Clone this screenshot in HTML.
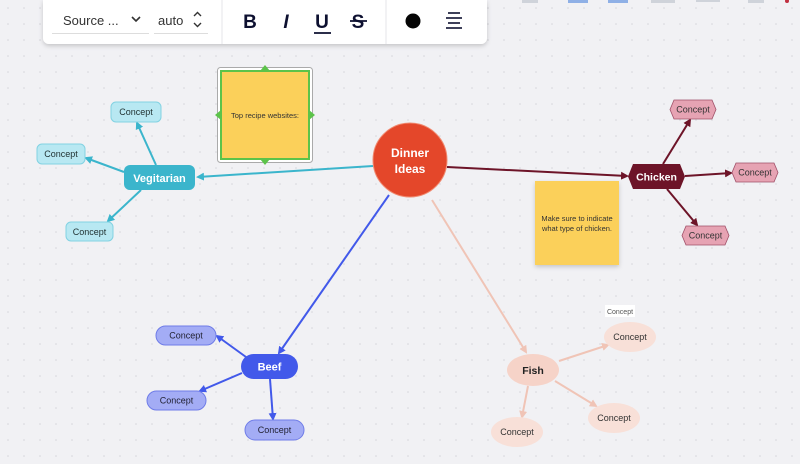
<!DOCTYPE html>
<html><head><meta charset="utf-8"><style>
html,body{margin:0;padding:0;width:800px;height:464px;overflow:hidden;background:#f1f1f4}
svg{display:block;font-family:"Liberation Sans",sans-serif}
</style></head><body>
<svg width="800" height="464" viewBox="0 0 800 464" xmlns="http://www.w3.org/2000/svg">
<defs>
<pattern id="g" width="16" height="16" patternUnits="userSpaceOnUse"><circle cx="8" cy="8" r="0.8" fill="#d4d4da"/></pattern>
<marker id="at" markerWidth="8" markerHeight="8" refX="6" refY="4" orient="auto" markerUnits="userSpaceOnUse"><path d="M0,0 L8,4 L0,8z" fill="#3bb5cc"/></marker>
<marker id="ac" markerWidth="8" markerHeight="8" refX="6" refY="4" orient="auto" markerUnits="userSpaceOnUse"><path d="M0,0 L8,4 L0,8z" fill="#6d1428"/></marker>
<marker id="ab" markerWidth="8" markerHeight="8" refX="6" refY="4" orient="auto" markerUnits="userSpaceOnUse"><path d="M0,0 L8,4 L0,8z" fill="#4259ea"/></marker>
<marker id="af" markerWidth="8" markerHeight="8" refX="6" refY="4" orient="auto" markerUnits="userSpaceOnUse"><path d="M0,0 L8,4 L0,8z" fill="#f0c4b6"/></marker>
<filter id="sh" x="-10%" y="-10%" width="120%" height="130%"><feDropShadow dx="0" dy="2" stdDeviation="2" flood-opacity="0.18"/></filter>
</defs>
<rect width="800" height="464" fill="url(#g)"/>
<!-- top strip icons -->
<g fill="#cfd3da"><rect x="522" y="0" width="16" height="3"/><rect x="568" y="0" width="20" height="3" fill="#8fb0e6"/><rect x="608" y="0" width="20" height="3" fill="#8fb0e6"/><rect x="651" y="0" width="24" height="3"/><rect x="696" y="0" width="24" height="2"/><rect x="748" y="0" width="16" height="3"/><circle cx="787" cy="1" r="2" fill="#c03040"/></g>

<!-- connectors -->
<g stroke-width="2" fill="none">
<line x1="373" y1="166" x2="198" y2="177" stroke="#3bb5cc" marker-end="url(#at)"/>
<line x1="156" y1="165" x2="137" y2="123" stroke="#3bb5cc" marker-end="url(#at)"/>
<line x1="124" y1="172" x2="86" y2="158" stroke="#3bb5cc" marker-end="url(#at)"/>
<line x1="141" y1="190" x2="108" y2="221" stroke="#3bb5cc" marker-end="url(#at)"/>
<line x1="447" y1="167" x2="627" y2="176" stroke="#6d1428" marker-end="url(#ac)"/>
<line x1="663" y1="164" x2="690" y2="120" stroke="#6d1428" marker-end="url(#ac)"/>
<line x1="685" y1="176" x2="731" y2="173" stroke="#6d1428" marker-end="url(#ac)"/>
<line x1="667" y1="189" x2="697" y2="225" stroke="#6d1428" marker-end="url(#ac)"/>
<line x1="389" y1="195" x2="279" y2="353" stroke="#4259ea" marker-end="url(#ab)"/>
<line x1="246" y1="357" x2="217" y2="336" stroke="#4259ea" marker-end="url(#ab)"/>
<line x1="242" y1="373" x2="200" y2="391" stroke="#4259ea" marker-end="url(#ab)"/>
<line x1="270" y1="379" x2="273" y2="419" stroke="#4259ea" marker-end="url(#ab)"/>
<line x1="432" y1="200" x2="526" y2="352" stroke="#f0c4b6" marker-end="url(#af)"/>
<line x1="559" y1="361" x2="608" y2="345" stroke="#f0c4b6" marker-end="url(#af)"/>
<line x1="555" y1="381" x2="596" y2="406" stroke="#f0c4b6" marker-end="url(#af)"/>
<line x1="528" y1="386" x2="522" y2="417" stroke="#f0c4b6" marker-end="url(#af)"/>
</g>

<!-- center -->
<circle cx="410" cy="160" r="37" fill="#e4472a" stroke="#f08a70" stroke-width="1"/>
<text x="410" y="157" fill="#fff" font-size="12" font-weight="bold" text-anchor="middle">Dinner</text>
<text x="410" y="173" fill="#fff" font-size="12" font-weight="bold" text-anchor="middle">Ideas</text>

<!-- vegetarian -->
<rect x="124" y="165" width="71" height="25" rx="6" fill="#3bb5cc"/>
<text x="159.5" y="182" fill="#fff" font-size="11" font-weight="bold" text-anchor="middle">Vegitarian</text>
<g fill="#b8e8f2" stroke="#82d2e2"><rect x="111" y="102" width="50" height="20" rx="5"/><rect x="37" y="144" width="48" height="20" rx="5"/><rect x="66" y="222" width="47" height="19" rx="5"/></g>
<g font-size="9" fill="#233" text-anchor="middle"><text x="136" y="115">Concept</text><text x="61" y="157">Concept</text><text x="89.5" y="235">Concept</text></g>

<!-- sticky 1 -->
<rect x="217.5" y="67.5" width="95" height="95" rx="3" fill="#fff" stroke="#aaa"/>
<rect x="221" y="71" width="88" height="88" fill="#fbd05a" stroke="#5cc34a" stroke-width="2"/>
<g fill="#5cc34a"><path d="M260,71 L265,65 L270,71z"/><path d="M260,159 L265,165 L270,159z"/><path d="M221,110 L215,115 L221,120z"/><path d="M309,110 L315,115 L309,120z"/></g>
<text x="265" y="118" font-size="7.5" fill="#333" text-anchor="middle">Top recipe websites:</text>

<!-- chicken -->
<path d="M633,164 L680,164 L685,176.5 L680,189 L633,189 L628,176.5z" fill="#6d1428"/>
<text x="656.5" y="180.5" fill="#fff" font-size="10.5" font-weight="bold" text-anchor="middle">Chicken</text>
<g fill="#e6a3b3" stroke="#a05068" stroke-width="0.8">
<path d="M674,100 L712,100 L716,109.5 L712,119 L674,119 L670,109.5z"/>
<path d="M736,163 L774,163 L778,172.5 L774,182 L736,182 L732,172.5z"/>
<path d="M686,226 L725,226 L729,235.5 L725,245 L686,245 L682,235.5z"/></g>
<g font-size="9" fill="#333" text-anchor="middle"><text x="693" y="112.5">Concept</text><text x="755" y="175.5">Concept</text><text x="705.5" y="238.5">Concept</text></g>

<!-- sticky 2 -->
<rect x="535" y="181" width="84" height="84" fill="#fbd05a" filter="url(#sh)"/>
<text x="577" y="221" font-size="7.5" fill="#333" text-anchor="middle">Make sure to indicate</text>
<text x="577" y="231" font-size="7.5" fill="#333" text-anchor="middle">what type of chicken.</text>

<!-- beef -->
<rect x="241" y="354" width="57" height="25" rx="12.5" fill="#4259ea"/>
<text x="269.5" y="370.5" fill="#fff" font-size="11" font-weight="bold" text-anchor="middle">Beef</text>
<g fill="#a3acf5" stroke="#6f7ce8"><rect x="156" y="326" width="60" height="19" rx="9.5"/><rect x="147" y="391" width="59" height="19" rx="9.5"/><rect x="245" y="420" width="59" height="20" rx="10"/></g>
<g font-size="9" fill="#223" text-anchor="middle"><text x="186" y="338.5">Concept</text><text x="176.5" y="403.5">Concept</text><text x="274.5" y="433">Concept</text></g>

<!-- fish -->
<ellipse cx="533" cy="370" rx="26" ry="16" fill="#f6d3c8"/>
<text x="533" y="374" font-size="10.5" font-weight="bold" fill="#222" text-anchor="middle">Fish</text>
<g fill="#f8e0d8"><ellipse cx="630" cy="337" rx="26" ry="15"/><ellipse cx="614" cy="418" rx="26" ry="15"/><ellipse cx="517" cy="432" rx="26" ry="15"/></g>
<g font-size="9" fill="#333" text-anchor="middle"><text x="630" y="340">Concept</text><text x="614" y="421">Concept</text><text x="517" y="435">Concept</text></g>
<rect x="605" y="305" width="30" height="12" fill="#fff"/>
<text x="620" y="314" font-size="7" fill="#555" text-anchor="middle">Concept</text>

<!-- toolbar -->
<path d="M43,0 H487 V38 a6,6 0 0 1 -6,6 H49 a6,6 0 0 1 -6,-6z" fill="#fff" filter="url(#sh)"/>
<line x1="222" y1="0" x2="222" y2="44" stroke="#e6e6ea"/>
<line x1="386" y1="0" x2="386" y2="44" stroke="#e6e6ea"/>
<text x="63" y="25" font-size="13" fill="#333">Source ...</text>
<path d="M132,17 L136,21 L140,17" stroke="#333" stroke-width="1.6" fill="none"/>
<line x1="52" y1="33.5" x2="149" y2="33.5" stroke="#ddd"/>
<text x="158" y="25" font-size="13" fill="#333">auto</text>
<path d="M194,16 L197.5,12.5 L201,16 M194,23 L197.5,26.5 L201,23" stroke="#333" stroke-width="1.4" fill="none"/>
<line x1="154" y1="33.5" x2="208" y2="33.5" stroke="#ddd"/>
<text x="250" y="28" font-size="19" font-weight="bold" fill="#0d1030" text-anchor="middle">B</text>
<text x="286" y="28" font-size="19" font-style="italic" font-weight="bold" fill="#0d1030" text-anchor="middle">I</text>
<text x="322" y="28" font-size="19" font-weight="bold" fill="#0d1030" text-anchor="middle">U</text>
<line x1="314" y1="33" x2="331" y2="33" stroke="#0d1030" stroke-width="1.8"/>
<text x="358" y="28" font-size="19" font-weight="bold" fill="#0d1030" text-anchor="middle">S</text>
<line x1="350" y1="21" x2="367" y2="21" stroke="#0d1030" stroke-width="1.8"/>
<circle cx="413" cy="21" r="7.5" fill="#050505"/>
<g stroke="#0d1030" stroke-width="1.6"><line x1="448" y1="13" x2="460" y2="13"/><line x1="446" y1="18" x2="462" y2="18"/><line x1="448" y1="23" x2="460" y2="23"/><line x1="446" y1="28" x2="462" y2="28"/></g>
</svg>
</body></html>
